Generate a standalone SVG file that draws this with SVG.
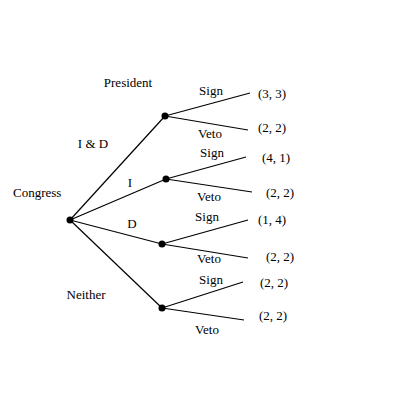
<svg xmlns="http://www.w3.org/2000/svg" width="400" height="400" viewBox="0 0 400 400">
<style>
text{font-family:"Liberation Serif","Times New Roman",serif;font-size:13px;fill:#000}
.m{text-anchor:middle}
line{stroke:#000;stroke-width:1.2}
circle{fill:#000}
</style>
<rect width="400" height="400" fill="#fff"/>
<g id="connectors">
<line x1="70" y1="220" x2="165" y2="116"/>
<line x1="70" y1="220" x2="166" y2="179"/>
<line x1="70" y1="220" x2="162" y2="244"/>
<line x1="70" y1="220" x2="162" y2="308"/>
<line x1="165" y1="116" x2="250" y2="93"/>
<line x1="165" y1="116" x2="248" y2="130"/>
<line x1="166" y1="179" x2="246" y2="157"/>
<line x1="166" y1="179" x2="252" y2="192"/>
<line x1="162" y1="244" x2="248" y2="220"/>
<line x1="162" y1="244" x2="248" y2="258"/>
<line x1="162" y1="308" x2="243" y2="282"/>
<line x1="162" y1="308" x2="244" y2="320"/>
</g>
<g id="congress"><circle cx="70" cy="220" r="3.5"/><text x="13" y="197">Congress</text></g>
<g id="president-label"><text class="m" x="128" y="87">President</text></g>
<g id="edge-labels">
<text class="m" x="93" y="148">I &amp; D</text>
<text class="m" x="130" y="187">I</text>
<text class="m" x="132" y="228">D</text>
<text class="m" x="86" y="299">Neither</text>
</g>
<g id="p1"><circle cx="165" cy="116" r="3.5"/>
<text class="m" x="211" y="95">Sign</text><text class="m" x="210" y="138">Veto</text>
<text x="258" y="98">(3, 3)</text><text x="258" y="132">(2, 2)</text></g>
<g id="p2"><circle cx="166" cy="179" r="3.5"/>
<text class="m" x="212" y="157">Sign</text><text class="m" x="209" y="201">Veto</text>
<text x="262" y="162">(4, 1)</text><text x="266" y="197">(2, 2)</text></g>
<g id="p3"><circle cx="162" cy="244" r="3.5"/>
<text class="m" x="207" y="221">Sign</text><text class="m" x="209" y="263">Veto</text>
<text x="258" y="224">(1, 4)</text><text x="266" y="261">(2, 2)</text></g>
<g id="p4"><circle cx="162" cy="308" r="3.5"/>
<text class="m" x="211" y="284">Sign</text><text class="m" x="207" y="334">Veto</text>
<text x="260" y="287">(2, 2)</text><text x="259" y="320">(2, 2)</text></g>
</svg>
